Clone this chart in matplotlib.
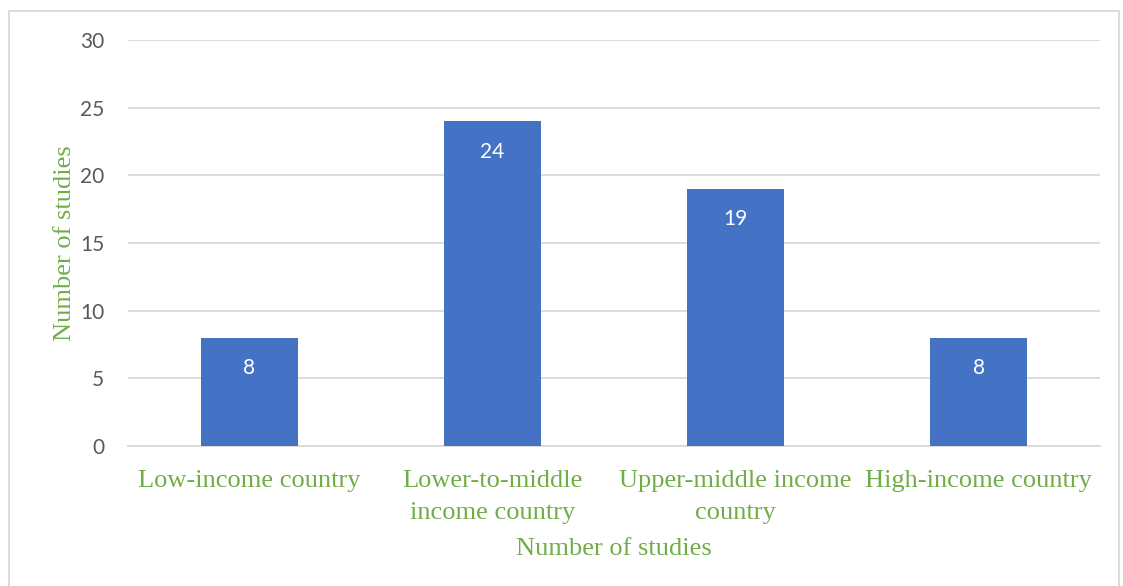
import matplotlib
matplotlib.use('Agg')
from matplotlib import pyplot as plt
from matplotlib.patches import Rectangle

categories = ['Low-income country', 'Lower-to-middle\nincome country',
              'Upper-middle income\ncountry', 'High-income country']
studies = [8, 24, 19, 8]
y_ticks = [0, 5, 10, 15, 20, 25, 30]

green = '#70AD47'
grid_gray = '#D9D9D9'
tick_gray = '#595959'

fig = plt.figure(figsize=(11.23, 5.86), dpi=100)
ax = fig.add_axes([128 / 1123, 140 / 586, 972 / 1123, 406 / 586])

# outer chart border
fig.patches.append(Rectangle((9 / 1123, -0.02), 1110 / 1123, 0.02 + 575 / 586,
                             transform=fig.transFigure, fill=False,
                             edgecolor='#D9D9D9', linewidth=1.3))

x = range(len(categories))
bars = ax.bar(x, studies, width=0.4, color='#4472C4', zorder=3)

# value labels inside top of bars
for b, v in zip(bars, studies):
    ax.annotate(str(v), (b.get_x() + b.get_width() / 2, v), xytext=(0, -22),
                textcoords='offset points', ha='center', va='center',
                color='white', fontsize=15, family='Lato')

ax.set_xlim(-0.5, len(categories) - 0.5)
ax.set_ylim(0, 30)
ax.set_yticks(y_ticks)
ax.yaxis.grid(True, color=grid_gray, linewidth=1.3, zorder=0)
ax.set_axisbelow(True)

for s in ['top', 'right', 'left']:
    ax.spines[s].set_visible(False)
ax.spines['bottom'].set_color(grid_gray)
ax.spines['bottom'].set_linewidth(1.3)

ax.tick_params(axis='y', length=0, pad=17, labelsize=15, labelcolor=tick_gray)
ax.tick_params(axis='x', length=0, pad=17.5)
for lbl in ax.get_yticklabels():
    lbl.set_family('Lato')

ax.set_xticks(list(x))
ax.set_xticklabels(categories, fontsize=19, color=green, family='Liberation Serif',
                   linespacing=1.55)

ax.set_xlabel('Number of studies', fontsize=19, color=green, family='Liberation Serif', labelpad=10)
ax.set_ylabel('Number of studies', fontsize=19, color=green, family='Liberation Serif', labelpad=3)

plt.savefig('out.png', dpi=100)
